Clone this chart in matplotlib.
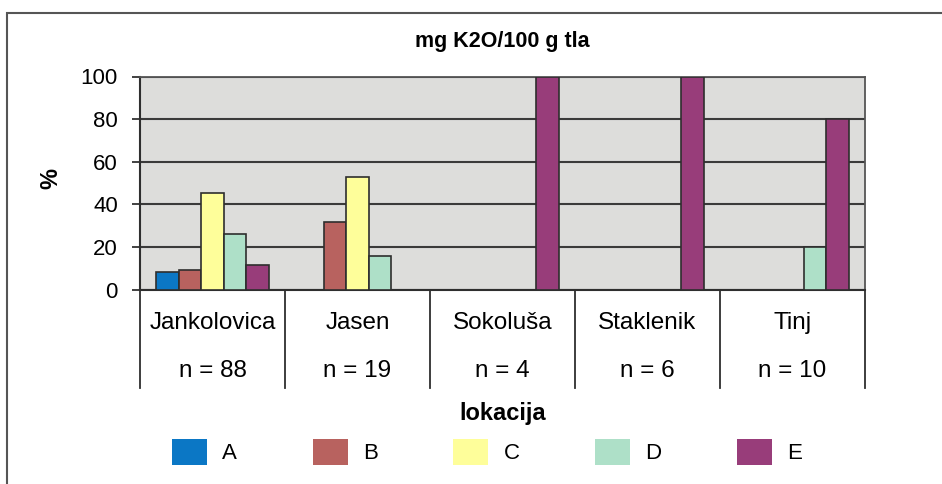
import numpy as np
import matplotlib
matplotlib.use("Agg")
import matplotlib.pyplot as plt
from matplotlib.patches import Rectangle
import matplotlib.transforms as mtransforms

plt.rcParams['font.family'] = ['Liberation Sans', 'DejaVu Sans']

# data (% of samples per class)
locations = ['Jankolovica', 'Jasen', 'Sokoluša', 'Staklenik', 'Tinj']
sample_sizes = [88, 19, 4, 6, 10]
classes = ['A', 'B', 'C', 'D', 'E']
share_A = [8.0, 0, 0, 0, 0]
share_B = [9.1, 31.6, 0, 0, 0]
share_C = [45.5, 52.6, 0, 0, 0]
share_D = [26.1, 15.8, 0, 0, 20.0]
share_E = [11.4, 0, 100.0, 100.0, 80.0]
class_colors = ['#0b77c5', '#b8625f', '#fefe9a', '#aee0c8', '#983d7a']

series = [share_A, share_B, share_C, share_D, share_E]

fig = plt.figure(figsize=(9.42, 4.84), dpi=100)
ax = fig.add_axes([140 / 942, 1 - 289.5 / 484, 725 / 942, 213 / 484])

x = np.arange(len(locations))
w = 0.155
bars = []
for i, (vals, col) in enumerate(zip(series, class_colors)):
    b = ax.bar(x + (i - 2) * w, vals, width=w, color=col, edgecolor='#2e2e2e',
               linewidth=1.2, label=classes[i], zorder=3)
    bars.append(b)

ax.set_facecolor('#dddddb')
ax.set_xlim(-0.5, len(locations) - 0.5)
ax.set_ylim(0, 100)
ax.set_yticks([0, 20, 40, 60, 80, 100])
ax.yaxis.grid(True, color='#3a3a3a', linewidth=1.5, zorder=1)
ax.set_axisbelow(True)
ax.set_xticks([])
ax.tick_params(axis='y', length=6, width=1.3, pad=10, labelsize=16, color='#333333')
for s in ['left', 'bottom']:
    ax.spines[s].set_color('#2e2e2e')
    ax.spines[s].set_linewidth(1.5)
for s in ['top', 'right']:
    ax.spines[s].set_color('#555555')
    ax.spines[s].set_linewidth(1.3)

# category table below the axis
trans = mtransforms.blended_transform_factory(ax.transData, ax.transAxes)
for xb in np.arange(len(locations) + 1) - 0.5:
    ax.plot([xb, xb], [0, -0.462], transform=trans, color='#2e2e2e',
            linewidth=1.3, clip_on=False)
for xi, name, n in zip(x, locations, sample_sizes):
    ax.text(xi, -0.157, name, transform=trans, ha='center', va='center', fontsize=17.5)
    ax.text(xi, -0.383, 'n = %d' % n, transform=trans, ha='center', va='center', fontsize=17.5)

ax.set_title('mg K2O/100 g tla', fontsize=15.5, fontweight='bold', y=1.162, va='center', pad=0)
ax.set_ylabel('%', fontsize=17, fontweight='bold')
ax.yaxis.set_label_coords(-0.107, 0.52)
ax.set_xlabel('lokacija', fontsize=17, fontweight='bold')
ax.xaxis.set_label_coords(0.5, -0.58)
ax.xaxis.label.set_va('center')

leg = fig.legend(handles=bars, labels=classes, ncol=5, loc='center',
                 bbox_to_anchor=(487 / 942, 1 - 452 / 484), frameon=False,
                 fontsize=16, handlelength=1.58, handleheight=1.4,
                 handletextpad=0.68, columnspacing=3.4)
for h in leg.legend_handles:
    h.set_edgecolor('none')

# outer frame of the picture
fig.patches.append(Rectangle((7 / 942, -0.1), 2, 1 - 13 / 484 + 0.1,
                             transform=fig.transFigure, fill=False,
                             edgecolor='#555555', linewidth=1.5))

fig.savefig('out.png', dpi=100)
